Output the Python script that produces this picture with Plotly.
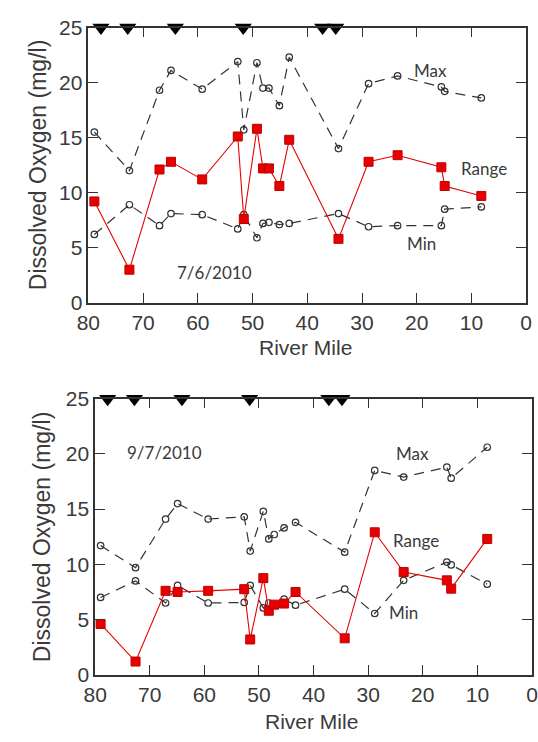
import plotly.graph_objects as go

# ---------------- data ----------------
tick_vals_x = [80, 70, 60, 50, 40, 30, 20, 10, 0]
tick_vals_y = [0, 5, 10, 15, 20, 25]

station_miles = [77.7, 72.8, 64.1, 51.7, 37.2, 34.8]
station_level = [25, 25, 25, 25, 25, 25]

top_miles = [78.9, 72.5, 67.0, 64.9, 59.2, 52.7, 51.6, 49.2, 48.1, 47.0, 45.1, 43.3, 34.3, 28.8, 23.5, 15.5, 14.9, 8.2]
top_max = [15.5, 12.0, 19.3, 21.1, 19.4, 21.9, 15.7, 21.8, 19.5, 19.5, 17.9, 22.3, 14.0, 19.9, 20.6, 19.6, 19.2, 18.6]
top_range = [9.2, 3.0, 12.1, 12.8, 11.2, 15.1, 7.6, 15.8, 12.2, 12.2, 10.6, 14.8, 5.8, 12.8, 13.4, 12.3, 10.6, 9.7]
top_min = [6.2, 8.9, 7.0, 8.1, 8.0, 6.7, 8.0, 5.9, 7.2, 7.3, 7.1, 7.2, 8.1, 6.9, 7.0, 7.0, 8.5, 8.7]

bot_miles = [79.0, 72.6, 67.1, 64.9, 59.3, 52.7, 51.6, 49.2, 48.2, 47.2, 45.4, 43.3, 34.3, 28.8, 23.5, 15.6, 14.8, 8.2]
bot_max = [11.7, 9.7, 14.1, 15.5, 14.1, 14.3, 11.2, 14.8, 12.3, 12.7, 13.3, 13.8, 11.1, 18.5, 17.9, 18.8, 17.8, 20.6]
bot_range = [4.6, 1.2, 7.6, 7.5, 7.6, 7.75, 3.2, 8.75, 5.8, 6.35, 6.45, 7.5, 3.3, 12.9, 9.3, 8.55, 7.8, 12.3]
bot_min = [7.0, 8.5, 6.5, 8.1, 6.5, 6.55, 8.1, 6.05, 6.5, 6.35, 6.85, 6.3, 7.75, 5.55, 8.55, 10.2, 9.95, 8.2]

# ---------------- styles ----------------
AX = "#333333"
TXT = "#3a3a3a"
RED = "#e60000"
SANS = "Liberation Sans, Arial, sans-serif"
LBL_FONT = dict(family="Lato", size=17, color=TXT)

fig = go.Figure()


def add_panel(xa, ya, miles, vmax, vrange, vmin):
    for vals in (vmax, vmin):
        fig.add_trace(go.Scatter(
            x=miles, y=vals, xaxis=xa, yaxis=ya, mode="lines+markers",
            line=dict(color=AX, width=1.2, dash="10px,7px"),
            marker=dict(symbol="circle-open", size=6.5, color=AX, line=dict(width=1.2)),
            showlegend=False, hoverinfo="skip"))
    fig.add_trace(go.Scatter(
        x=miles, y=vrange, xaxis=xa, yaxis=ya, mode="lines+markers",
        line=dict(color=RED, width=1.1),
        marker=dict(symbol="square", size=9, color=RED, line=dict(color="#c00000", width=1)),
        showlegend=False, hoverinfo="skip"))
    fig.add_trace(go.Scatter(
        x=station_miles, y=station_level, xaxis=xa, yaxis=ya, mode="markers",
        marker=dict(symbol="triangle-down", size=15, color="black"),
        cliponaxis=False, showlegend=False, hoverinfo="skip"))


add_panel("x", "y", top_miles, top_max, top_range, top_min)
add_panel("x2", "y2", bot_miles, bot_max, bot_range, bot_min)

common_x = dict(range=[80, 0], tickvals=tick_vals_x, ticks="inside", ticklen=10, tickwidth=1.3,
                tickcolor=AX, mirror="ticks", showline=True, linecolor=AX, linewidth=1.5,
                showgrid=False, zeroline=False,
                tickfont=dict(family=SANS, size=21, color=TXT))
common_y = dict(range=[0, 25], tickvals=tick_vals_y, ticks="inside", ticklen=10, tickwidth=1.3,
                tickcolor=AX, mirror="ticks", showline=True, linecolor=AX, linewidth=1.5,
                showgrid=False, zeroline=False,
                tickfont=dict(family=SANS, size=21, color=TXT))

fig.update_layout(
    width=538, height=742,
    margin=dict(l=0, r=0, t=0, b=0),
    paper_bgcolor="white", plot_bgcolor="white",
    showlegend=False,
    xaxis=dict(domain=[79 / 538, 532 / 538], anchor="y", **common_x),
    yaxis=dict(domain=[1 - 300 / 742, 1 - 16 / 742], anchor="x", **common_y),
    xaxis2=dict(domain=[86 / 538, 1.0], anchor="y2", **common_x),
    yaxis2=dict(domain=[1 - 684 / 742, 1 - 399 / 742], anchor="x2", **common_y),
)

ann = []
# axis titles
ytitle_font = dict(family=SANS, size=23, color=TXT)
xtitle_font = dict(family=SANS, size=21, color=TXT)
ann.append(dict(text="Dissolved Oxygen (mg/l)", xref="paper", yref="paper", x=27 / 538, y=1 - 158 / 742,
                textangle=-90, showarrow=False, font=ytitle_font, xanchor="center", yanchor="middle"))
ann.append(dict(text="Dissolved Oxygen (mg/l)", xref="paper", yref="paper", x=31 / 538, y=1 - 541 / 742,
                textangle=-90, showarrow=False, font=ytitle_font, xanchor="center", yanchor="middle"))
ann.append(dict(text="River Mile", xref="paper", yref="paper", x=304 / 538, y=1 - 346 / 742,
                showarrow=False, font=xtitle_font, xanchor="center", yanchor="middle"))
ann.append(dict(text="River Mile", xref="paper", yref="paper", x=310 / 538, y=1 - 732 / 742,
                showarrow=False, font=xtitle_font, xanchor="center", yanchor="middle"))

# series labels
for xr, yr, txt, mx, vy in [
    ("x", "y", "Max", 17.5, 21.1), ("x", "y", "Range", 7.7, 12.2), ("x", "y", "Min", 19.2, 5.4),
    ("x", "y", "7/6/2010", 56.9, 2.7),
    ("x2", "y2", "9/7/2010", 67.3, 20.1), ("x2", "y2", "Max", 21.9, 20.05),
    ("x2", "y2", "Range", 21.3, 12.2), ("x2", "y2", "Min", 23.6, 5.6),
]:
    ann.append(dict(text=txt, xref=xr, yref=yr, x=mx, y=vy, showarrow=False, font=LBL_FONT,
                    xanchor="center", yanchor="middle"))

fig.update_layout(annotations=ann)
fig.write_html("out.html")
